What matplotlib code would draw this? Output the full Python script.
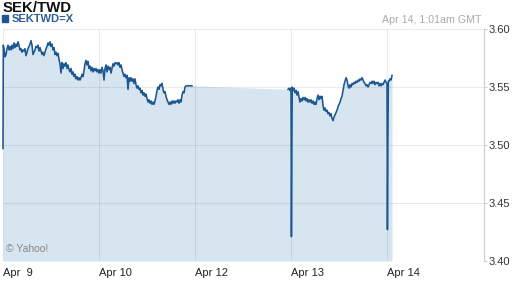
import matplotlib
matplotlib.use("Agg")
import matplotlib.pyplot as plt
import numpy as np

plt.rcParams['font.family'] = ['Liberation Sans', 'DejaVu Sans']

# ---- data (time in 15-minute slots since Apr 9 session start; 96 slots per session day)
seg1_slots = [0, 0.3] + list(range(1, 184)) + [187, 189]
seg1_rate = [3.497, 3.586,
    3.583, 3.576, 3.578, 3.583, 3.586, 3.582, 3.585, 3.582, 3.586, 3.583,
    3.588, 3.584, 3.587, 3.585, 3.589, 3.586, 3.582, 3.583, 3.580, 3.582,
    3.581, 3.583, 3.577, 3.580, 3.583, 3.585, 3.587, 3.590, 3.586, 3.578,
    3.580, 3.582, 3.585, 3.584, 3.586, 3.581, 3.584, 3.581, 3.578, 3.580,
    3.577, 3.580, 3.583, 3.585, 3.588, 3.586, 3.589, 3.585, 3.587, 3.582,
    3.584, 3.578, 3.580, 3.577, 3.579, 3.574, 3.570, 3.562, 3.571, 3.566,
    3.570, 3.568, 3.571, 3.566, 3.569, 3.565, 3.563, 3.566, 3.561, 3.563,
    3.559, 3.561, 3.557, 3.559, 3.556, 3.558, 3.556, 3.558, 3.561, 3.559,
    3.564, 3.570, 3.573, 3.569, 3.572, 3.566, 3.568, 3.564, 3.567, 3.563,
    3.566, 3.564, 3.566, 3.563, 3.565, 3.562, 3.565, 3.562, 3.567, 3.564,
    3.556, 3.566, 3.569, 3.563, 3.568, 3.565, 3.567, 3.562, 3.566, 3.570,
    3.568, 3.571, 3.570, 3.571, 3.569, 3.571, 3.567, 3.569, 3.565, 3.562,
    3.559, 3.561, 3.558, 3.560, 3.548, 3.558, 3.555, 3.558, 3.555, 3.557,
    3.553, 3.557, 3.552, 3.549, 3.551, 3.548, 3.549, 3.545, 3.547, 3.543,
    3.545, 3.542, 3.544, 3.540, 3.537, 3.539, 3.536, 3.538, 3.535, 3.537,
    3.535, 3.538, 3.542, 3.547, 3.550, 3.548, 3.552, 3.551, 3.553, 3.548,
    3.545, 3.546, 3.542, 3.539, 3.537, 3.535, 3.537, 3.535, 3.538, 3.536,
    3.538, 3.536, 3.538, 3.537, 3.539, 3.536, 3.539, 3.537, 3.543, 3.546,
    3.545, 3.550, 3.551,
    3.551, 3.551]

seg2_slots = [285, 286, 287, 288, 288.4, 288.8, 289.2] + list(range(290, 382)) + \
             [382, 383, 384, 384.4, 384.8, 385.3, 386, 387, 388, 389]
seg2_rate = [3.548, 3.549, 3.547, 3.549, 3.421, 3.483, 3.550,
    3.547, 3.549, 3.545, 3.547, 3.543, 3.546, 3.541, 3.537, 3.540, 3.538,
    3.541, 3.539, 3.541, 3.538, 3.540, 3.537, 3.539, 3.537, 3.539, 3.536,
    3.538, 3.535, 3.537, 3.535, 3.540, 3.543, 3.539, 3.542, 3.540, 3.542,
    3.534, 3.530, 3.532, 3.529, 3.530, 3.527, 3.528, 3.525, 3.527, 3.523,
    3.521, 3.524, 3.526, 3.528, 3.530, 3.533, 3.535, 3.537, 3.540, 3.542,
    3.547, 3.552, 3.555, 3.558, 3.556, 3.551, 3.549, 3.552, 3.550, 3.553,
    3.552, 3.554, 3.553, 3.555, 3.554, 3.556, 3.555, 3.557, 3.556, 3.558,
    3.556, 3.554, 3.553, 3.551, 3.552, 3.550, 3.552, 3.554, 3.553, 3.555,
    3.553, 3.555, 3.552, 3.554, 3.553, 3.554, 3.551, 3.553, 3.551, 3.553,
    3.552, 3.554,
    3.556, 3.554, 3.553, 3.427, 3.491, 3.555, 3.555, 3.557, 3.556, 3.560]

slots_per_day = 96.0
tick_pos = [0, 1, 2, 3, 4]
tick_labels = ["Apr  9", "Apr 10", "Apr 12", "Apr 13", "Apr 14"]
y_ticks = [3.40, 3.45, 3.50, 3.55, 3.60]

title = "SEK/TWD"
series_name = "SEKTWD=X"
timestamp = "Apr 14, 1:01am GMT"
credit = "\u00a9 Yahoo!"

line_color = "#1c5791"
fill_color = "#d6e5f0"

# ---- figure
fig = plt.figure(figsize=(5.12, 2.88), dpi=100)
ax = fig.add_axes([3/512, 1-261/288, 481/512, 232/288])

x1 = np.array(seg1_slots) / slots_per_day
x2 = np.array(seg2_slots) / slots_per_day
xall = np.concatenate([x1, x2])
yall = np.concatenate([seg1_rate, seg2_rate])

ax.fill_between(xall, yall, 3.40, color=fill_color, lw=0, zorder=1)
ax.plot(x1, seg1_rate, color=line_color, lw=1.15, zorder=3, clip_on=False)
ax.plot(x2, seg2_rate, color=line_color, lw=1.15, zorder=3, clip_on=False)

ax.set_xlim(0, 5.01)
ax.set_ylim(3.40, 3.60)
ax.set_xticks(tick_pos)
ax.set_xticklabels(tick_labels, ha='left')
ax.set_yticks(y_ticks)
ax.set_yticklabels([f"{v:.2f}" for v in y_ticks])
ax.yaxis.tick_right()
ax.grid(True, color='black', alpha=0.08, lw=0.8)
ax.set_axisbelow(False)
for side in ['top', 'left', 'bottom']:
    ax.spines[side].set_visible(False)
ax.spines['right'].set_color('#cccccc')
ax.spines['right'].set_linewidth(0.8)
ax.tick_params(axis='x', length=0, pad=5, labelsize=8, labelcolor='#222222')
ax.tick_params(axis='y', length=2, color='#cccccc', pad=1, labelsize=8, labelcolor='#333333')
for lbl in ax.get_xticklabels():
    lbl.set_horizontalalignment('left')

ax.text(0.006, 0.03, credit, transform=ax.transAxes, fontsize=7.5, color='#888888',
        ha='left', va='bottom')

fig.text(3/512, 1-1/288, title, fontsize=10.8, fontweight='bold', color='#111111',
         ha='left', va='top')
fig.patches.append(plt.Rectangle((2/512, 1-22/288), 6/512, 7/288, transform=fig.transFigure,
                                 color=line_color, figure=fig))
fig.text(12/512, 1-19/288, series_name, fontsize=8, fontweight='bold', color='#2b5f95',
         ha='left', va='center')
fig.text(481/512, 1-20/288, timestamp, fontsize=7.7, color='#aaaaaa', ha='right', va='center')

fig.savefig("out.png", dpi=100)
